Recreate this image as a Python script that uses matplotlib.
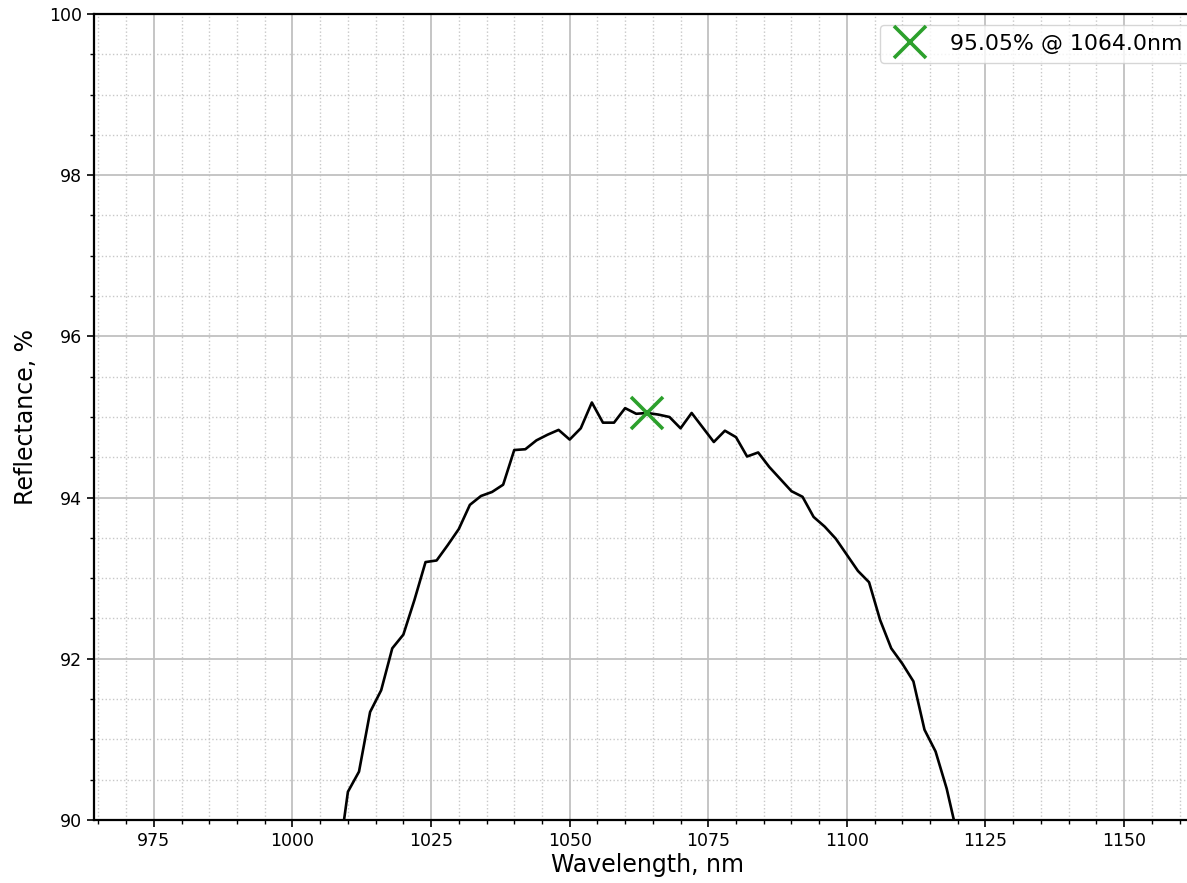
import numpy as np
import matplotlib
matplotlib.use("Agg")
import matplotlib.pyplot as plt
from matplotlib.ticker import MultipleLocator

# measured spectrum (nm, %)
wavelength = [1008, 1010, 1012, 1014, 1016, 1018, 1020, 1022, 1024, 1026,
              1028, 1030, 1032, 1034, 1036, 1038, 1040, 1042, 1044, 1046,
              1048, 1050, 1052, 1054, 1056, 1058, 1060, 1062, 1064, 1066,
              1068, 1070, 1072, 1074, 1076, 1078, 1080, 1082, 1084, 1086,
              1088, 1090, 1092, 1094, 1096, 1098, 1100, 1102, 1104, 1106,
              1108, 1110, 1112, 1114, 1116, 1118, 1120]
reflectance = [89.35, 90.35, 90.60, 91.34, 91.61, 92.13, 92.30, 92.73, 93.20, 93.22,
               93.41, 93.61, 93.91, 94.02, 94.07, 94.16, 94.59, 94.60, 94.71, 94.78,
               94.84, 94.72, 94.86, 95.18, 94.93, 94.93, 95.11, 95.04, 95.05, 95.03,
               95.00, 94.86, 95.05, 94.87, 94.69, 94.83, 94.75, 94.51, 94.56, 94.38,
               94.23, 94.08, 94.01, 93.76, 93.64, 93.49, 93.29, 93.09, 92.95, 92.48,
               92.13, 91.94, 91.72, 91.12, 90.85, 90.39, 89.79]

peak_wl = 1064.0
peak_r = 95.05

fig = plt.figure(figsize=(11.87, 8.83), dpi=100)
# axes runs a bit past the right edge of the picture
ax = fig.add_axes([94/1187, 63/883, 1108/1187, 806/883])

ax.plot(wavelength, reflectance, color="black", lw=1.9)
ax.plot(peak_wl, peak_r, "x", color="#2ca02c", ms=23, mew=2.6,
        label="%.2f%% @ %.1fnm" % (peak_r, peak_wl))

ax.set_xlim(964.2, 964.2 + 1108/5.544)
ax.set_ylim(90, 100)
ax.xaxis.set_major_locator(MultipleLocator(25))
ax.xaxis.set_minor_locator(MultipleLocator(5))
ax.yaxis.set_major_locator(MultipleLocator(2))
ax.yaxis.set_minor_locator(MultipleLocator(0.5))

ax.grid(which="major", color="#c0c0c0", lw=1.3, ls="-")
ax.grid(which="minor", color="#c8c8c8", lw=1.0, ls=":")
ax.set_axisbelow(True)

for s in ["left", "top", "bottom"]:
    ax.spines[s].set_linewidth(1.6)
ax.spines["right"].set_visible(False)

ax.tick_params(which="major", labelsize=12.5, length=5, width=1.2)
ax.tick_params(which="minor", length=3, width=1.0)

ax.set_xlabel("Wavelength, nm", fontsize=17, labelpad=2)
ax.set_ylabel("Reflectance, %", fontsize=17, labelpad=8)

ax.legend(loc="upper right", fontsize=15.8)

fig.savefig("out.png", dpi=100)
